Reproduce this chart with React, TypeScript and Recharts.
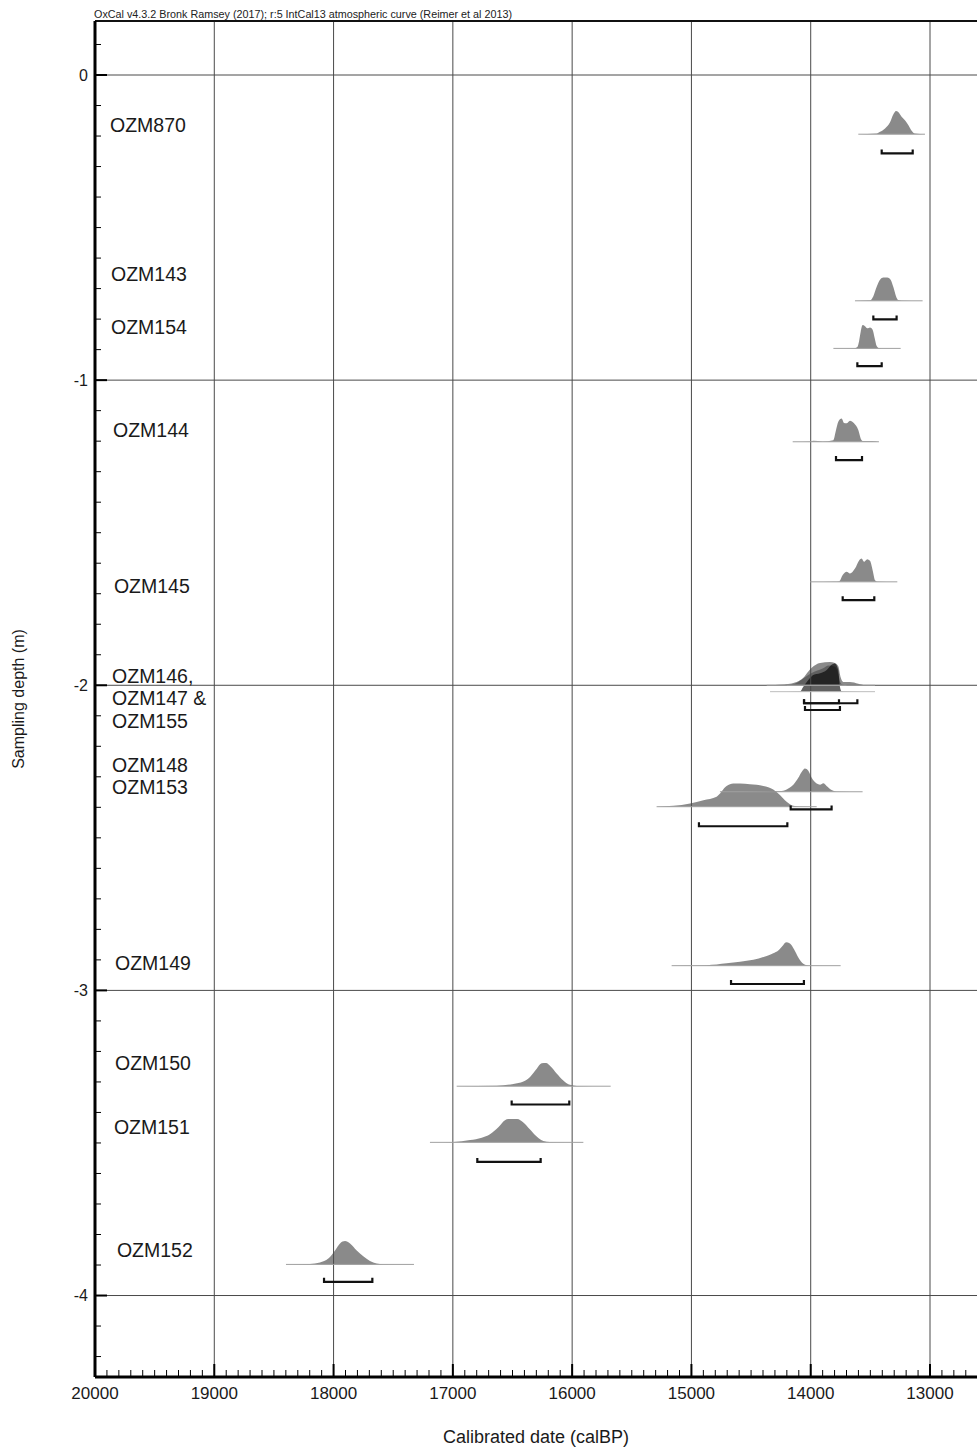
import React from 'react';
import { ComposedChart, Area, Line, Scatter, XAxis, YAxis, ReferenceLine } from 'recharts';

const FONT = '"Liberation Sans", Arial, Helvetica, sans-serif';

const TITLE = 'OxCal v4.3.2 Bronk Ramsey (2017); r:5 IntCal13 atmospheric curve (Reimer et al 2013)';
const X_TITLE = 'Calibrated date (calBP)';
const Y_TITLE = 'Sampling depth (m)';

// axis ranges (calBP runs right to left)
const X_DOMAIN = [12606, 20000];
const Y_DOMAIN = [-4.267, 0.177];
const DATE_GRID = [19000, 18000, 17000, 16000, 15000, 14000, 13000];
const DEPTH_GRID = [0, -1, -2, -3, -4];

// sample labels, one entry per text line
const LABEL_NAMES = ['OZM870', 'OZM143', 'OZM154', 'OZM144', 'OZM145', 'OZM146,', 'OZM147 &', 'OZM155', 'OZM148', 'OZM153', 'OZM149', 'OZM150', 'OZM151', 'OZM152'];
const LABEL_DEPTHS = [-0.164, -0.652, -0.826, -1.164, -1.675, -1.97, -2.042, -2.117, -2.262, -2.334, -2.911, -3.238, -3.448, -3.851];
const LABEL_DATES = [19874, 19866, 19866, 19849, 19841, 19857, 19857, 19857, 19857, 19857, 19832, 19832, 19841, 19816];

// calibrated probability distributions: [calBP, relative probability]
const OZM870 = [[13601, 0], [13447, 0.03], [13419, 0.1], [13377, 0.25], [13336, 0.5], [13308, 0.85], [13285, 1], [13266, 0.95], [13238, 0.75], [13210, 0.6], [13182, 0.4], [13154, 0.15], [13126, 0.03], [13042, 0]];
const OZM143 = [[13629, 0], [13503, 0.02], [13475, 0.2], [13447, 0.6], [13419, 0.9], [13391, 1], [13358, 1], [13330, 0.9], [13308, 0.6], [13285, 0.2], [13266, 0.03], [13238, 0.01], [13062, 0]];
const OZM154 = [[13810, 0], [13629, 0.01], [13609, 0.06], [13595, 0.3], [13581, 0.71], [13565, 1], [13545, 0.95], [13526, 0.86], [13503, 0.9], [13481, 0.8], [13464, 0.45], [13447, 0.1], [13431, 0.02], [13405, 0], [13246, 0]];
const OZM144 = [[14151, 0], [14000, 0.01], [13978, 0.04], [13900, 0.01], [13811, 0.07], [13788, 0.5], [13769, 0.86], [13741, 1], [13721, 0.81], [13699, 0.79], [13671, 0.9], [13637, 0.79], [13601, 0.5], [13581, 0.14], [13565, 0.03], [13489, 0.03], [13428, 0]];
const OZM145 = [[14006, 0], [13800, 0.01], [13760, 0.03], [13732, 0.29], [13699, 0.43], [13671, 0.36], [13629, 0.57], [13593, 0.93], [13573, 1], [13553, 0.86], [13526, 0.97], [13503, 0.9], [13481, 0.5], [13461, 0.07], [13442, 0.01], [13274, 0]];
const OZM146 = [[14369, 0], [14174, 0.07], [14118, 0.14], [14062, 0.32], [14020, 0.59], [13992, 0.75], [13922, 0.96], [13839, 1], [13797, 0.96], [13769, 0.82], [13749, 0.34], [13727, 0.14], [13671, 0.14], [13601, 0.07], [13545, 0.01], [13461, 0]];
const OZM147 = [[14200, 0], [14120, 0.1], [14060, 0.3], [14000, 0.5], [13950, 0.62], [13900, 0.72], [13850, 0.85], [13800, 0.8], [13775, 0.6], [13755, 0.15], [13730, 0.02], [13700, 0]];
const OZM155 = [[14341, 0], [14090, 0.01], [14062, 0.21], [14020, 0.5], [13978, 0.72], [13922, 0.79], [13866, 0.93], [13825, 1.15], [13797, 1.21], [13769, 0.93], [13755, 0.21], [13741, 0.02], [13700, 0.01], [13461, 0]];
const OZM148 = [[14761, 0], [14400, 0.01], [14258, 0.03], [14202, 0.1], [14146, 0.3], [14104, 0.6], [14076, 0.85], [14048, 1], [14020, 0.9], [13992, 0.6], [13950, 0.35], [13922, 0.3], [13894, 0.36], [13867, 0.25], [13825, 0.08], [13769, 0.01], [13565, 0]];
const OZM153 = [[15292, 0], [15152, 0.04], [15012, 0.14], [14900, 0.28], [14789, 0.43], [14705, 0.89], [14649, 1], [14593, 1], [14509, 0.96], [14397, 0.89], [14314, 0.74], [14258, 0.5], [14202, 0.21], [14146, 0.04], [14090, 0.01], [13950, 0]];
const OZM149 = [[15166, 0], [14872, 0.02], [14705, 0.1], [14593, 0.17], [14481, 0.25], [14369, 0.42], [14314, 0.53], [14272, 0.65], [14235, 0.85], [14207, 1], [14174, 0.95], [14140, 0.7], [14104, 0.35], [14062, 0.08], [14020, 0.01], [13749, 0]];
const OZM150 = [[16968, 0], [16633, 0.02], [16493, 0.1], [16409, 0.2], [16353, 0.4], [16297, 0.75], [16256, 0.98], [16219, 1], [16180, 0.85], [16130, 0.55], [16074, 0.25], [16018, 0.06], [15961, 0.01], [15677, 0]];
const OZM151 = [[17192, 0], [16996, 0.02], [16856, 0.1], [16758, 0.2], [16689, 0.35], [16619, 0.65], [16563, 0.95], [16535, 1], [16460, 1], [16409, 0.85], [16353, 0.55], [16297, 0.25], [16241, 0.06], [16186, 0.01], [15906, 0]];
const OZM152 = [[18399, 0], [18198, 0.02], [18114, 0.08], [18044, 0.25], [17988, 0.6], [17946, 0.9], [17904, 1], [17862, 0.9], [17806, 0.6], [17751, 0.35], [17695, 0.15], [17639, 0.04], [17583, 0.01], [17326, 0]];

// baseline depth of each plotted distribution
const DISTS = [
  { name: 'OZM870', depth: -0.194, pts: OZM870 },
  { name: 'OZM143', depth: -0.74, pts: OZM143 },
  { name: 'OZM154', depth: -0.896, pts: OZM154 },
  { name: 'OZM144', depth: -1.202, pts: OZM144 },
  { name: 'OZM145', depth: -1.661, pts: OZM145 },
  { name: 'OZM146', depth: -2.0, pts: OZM146 },
  { name: 'OZM147', depth: -2.0, pts: OZM147 },
  { name: 'OZM155', depth: -2.021, pts: OZM155 },
  { name: 'OZM148', depth: -2.349, pts: OZM148 },
  { name: 'OZM153', depth: -2.398, pts: OZM153 },
  { name: 'OZM149', depth: -2.919, pts: OZM149 },
  { name: 'OZM150', depth: -3.314, pts: OZM150 },
  { name: 'OZM151', depth: -3.498, pts: OZM151 },
  { name: 'OZM152', depth: -3.898, pts: OZM152 },
];

// 95.4% ranges: [from calBP, to calBP, depth]
const RANGES = [
  [13405, 13145, -0.257],
  [13475, 13280, -0.801],
  [13609, 13405, -0.954],
  [13788, 13570, -1.262],
  [13732, 13467, -1.721],
  [14056, 13609, -2.059],
  [14056, 13763, -2.059],
  [14048, 13755, -2.081],
  [14168, 13825, -2.407],
  [14937, 14196, -2.462],
  [14668, 14057, -2.979],
  [16507, 16024, -3.374],
  [16795, 16264, -3.562],
  [18080, 17675, -3.955],
];

const PEAK = 0.0764; // height of a unit peak, in metres
const TICK = 0.013;
const SHADE: Record<string, number> = { OZM147: 0.3, OZM155: 0.62 };

const range = (a: number, b: number, step: number) => {
  const out: number[] = [];
  for (let i = a; i <= b; i += step) out.push(i);
  return out;
};
const DATE_TICKS = range(127, 200, 1).map(i => i * 100);
const DEPTH_TICKS = range(-42, 1, 1).map(i => i / 10);

const renderDateTick = (props: any) => {
  const { x, y, payload } = props;
  const major = payload.value % 1000 === 0;
  return (
    <g>
      <line x1={x} x2={x} y1={y} y2={y - (major ? 13 : 7)} stroke="#000" strokeWidth={major ? 2 : 1} />
      {major && (
        <text x={x} y={y + 22} textAnchor="middle" fontSize={17} fontFamily={FONT} fill="#1a1a1a">
          {payload.value}
        </text>
      )}
    </g>
  );
};

const renderDepthTick = (props: any) => {
  const { x, y, payload } = props;
  const v = payload.value;
  const major = Math.abs(v - Math.round(v)) < 1e-6;
  return (
    <g>
      <line x1={x} x2={x + (major ? 12 : 6)} y1={y} y2={y} stroke="#000" strokeWidth={major ? 2 : 1} />
      {major && (
        <text x={x - 7} y={y} dy="0.36em" textAnchor="end" fontSize={16} fontFamily={FONT} fill="#1a1a1a">
          {String(Math.round(v) || 0)}
        </text>
      )}
    </g>
  );
};

const renderTitle = (props: any) => {
  const vb = props.viewBox || {};
  return (
    <text x={vb.x - 1} y={vb.y - 3} fontSize={10} fontFamily={FONT} fill="#222" textLength={418} lengthAdjust="spacingAndGlyphs">
      {TITLE}
    </text>
  );
};

const renderLabel = (p: any) => (
  <text x={p.cx} y={p.cy} dy="0.35em" fontSize={19.5} fontFamily={FONT} fill="#1a1a1a">
    {p.payload.name}
  </text>
);

const App: React.FC = () => {
  const labelData = LABEL_NAMES.map((name, i) => ({ date: LABEL_DATES[i], y: LABEL_DEPTHS[i], name }));

  return (
    <div style={{ position: 'absolute', left: 0, top: 0, width: 977, height: 1447, overflow: 'hidden', background: '#fff' }}>
      <ComposedChart width={977} height={1447} margin={{ top: 21, right: 0, bottom: 0, left: 0 }}>
        <XAxis
          dataKey="date"
          type="number"
          domain={X_DOMAIN}
          reversed
          allowDataOverflow
          ticks={DATE_TICKS}
          interval={0}
          tickSize={0}
          tickMargin={0}
          tickLine={false}
          tick={renderDateTick}
          height={70}
          axisLine={{ stroke: '#000', strokeWidth: 3 }}
          label={{ value: X_TITLE, position: 'insideBottom', offset: 4, fontSize: 18, fill: '#1a1a1a', fontFamily: FONT }}
        />
        <YAxis
          type="number"
          domain={Y_DOMAIN}
          allowDataOverflow
          ticks={DEPTH_TICKS}
          interval={0}
          tickSize={0}
          tickMargin={0}
          tickLine={false}
          tick={renderDepthTick}
          width={95}
          axisLine={{ stroke: '#000', strokeWidth: 3 }}
          label={{ value: Y_TITLE, angle: -90, position: 'insideLeft', offset: 18, fontSize: 16, fill: '#1a1a1a', fontFamily: FONT, style: { textAnchor: 'middle' } }}
        />

        {DATE_GRID.map(d => (
          <ReferenceLine key={'gx' + d} x={d} stroke="#4a4a4a" strokeWidth={1} />
        ))}
        {DEPTH_GRID.map(d => (
          <ReferenceLine key={'gy' + d} y={d} stroke="#4a4a4a" strokeWidth={1} />
        ))}
        <ReferenceLine y={Y_DOMAIN[1]} stroke="#111" strokeWidth={2} label={renderTitle} />

        {DISTS.map(d => (
          <Area
            key={d.name}
            data={d.pts.map(([date, p]) => ({ date, band: [d.depth, d.depth + p * PEAK] }))}
            dataKey="band"
            type="monotone"
            stroke="none"
            fill="#000"
            fillOpacity={SHADE[d.name] ?? 0.46}
            dot={false}
            activeDot={false}
            isAnimationActive={false}
          />
        ))}

        {DISTS.map(d => (
          <Line
            key={'base' + d.name}
            data={[
              { date: d.pts[0][0], y: d.depth },
              { date: d.pts[d.pts.length - 1][0], y: d.depth },
            ]}
            dataKey="y"
            stroke={d.name === 'OZM155' ? '#bdbdbd' : '#a0a0a0'}
            strokeWidth={1}
            dot={false}
            activeDot={false}
            isAnimationActive={false}
          />
        ))}

        {RANGES.map(([from, to, depth], i) => (
          <Line
            key={'rng' + i}
            data={[
              { date: from, y: depth + TICK },
              { date: from, y: depth },
              { date: to, y: depth },
              { date: to, y: depth + TICK },
            ]}
            dataKey="y"
            type="linear"
            stroke="#111"
            strokeWidth={2.2}
            dot={false}
            activeDot={false}
            isAnimationActive={false}
          />
        ))}

        <Scatter data={labelData} dataKey="y" shape={renderLabel} isAnimationActive={false} />
      </ComposedChart>
    </div>
  );
};

export default App;
